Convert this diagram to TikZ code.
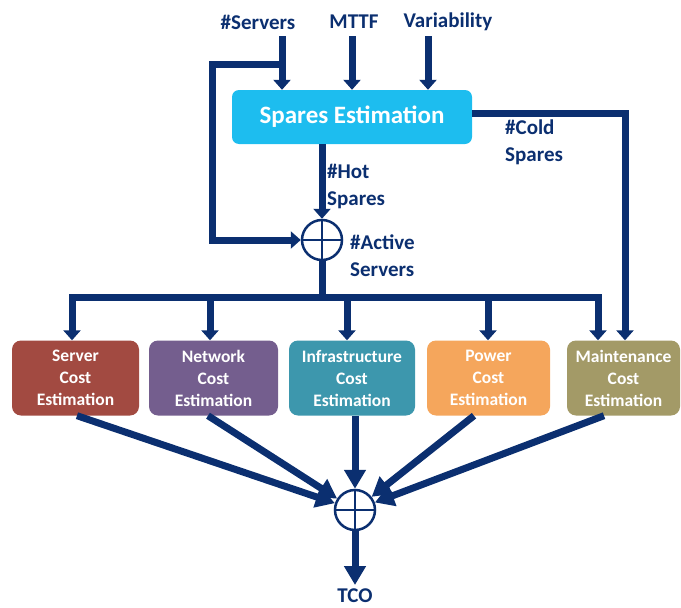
\documentclass[tikz,border=0pt]{standalone}
\usepackage{fontspec}
\setmainfont{Carlito}
\usetikzlibrary{arrows.meta}
\definecolor{navy}{HTML}{0B2F70}
\definecolor{skyfill}{HTML}{1DBDEF}
\definecolor{servercol}{HTML}{A24A41}
\definecolor{networkcol}{HTML}{745E8E}
\definecolor{infracol}{HTML}{3D97AD}
\definecolor{powercol}{HTML}{F5A65C}
\definecolor{maintcol}{HTML}{A39A67}
\begin{document}
\begin{tikzpicture}[x=1pt,y=-1pt,
  wire/.style={line width=7pt,draw=navy,line join=miter},
  flow/.style={wire,-{Triangle[width=17pt,length=10pt]}},
  bigflow/.style={wire,-{Triangle[width=21pt,length=19pt]}},
  lbl/.style={text=navy,font=\fontsize{21}{27}\selectfont\bfseries,inner sep=0pt},
  sidelbl/.style={lbl,align=left,anchor=north west},
  spares/.style={fill=skyfill,rounded corners=7pt,minimum width=240pt,minimum height=54pt,
    text=white,font=\fontsize{25}{28}\selectfont\bfseries},
  costbox/.style={rounded corners=9pt,minimum height=75pt,text=white,align=center,
    font=\fontsize{17.5}{22}\selectfont\bfseries,inner sep=0pt},
  sum/.style={circle,draw=navy,line width=2.5pt,fill=white,minimum size=40pt,inner sep=0pt,
    path picture={\draw[navy,line width=2pt]
      (path picture bounding box.north) -- (path picture bounding box.south)
      (path picture bounding box.west) -- (path picture bounding box.east);}}]
\useasboundingbox (0,0) rectangle (681,608);

% inputs
\node[lbl] (srv) at (258,22) {\#Servers};
\node[lbl] (mttf) at (354,22) {MTTF};
\node[lbl] (var) at (448,22) {Variability};

% spares estimation block
\node[spares] (se) at (352,117) {Spares Estimation};

\coordinate (srvx) at (282,36);
\coordinate (mttfx) at (352,36);
\coordinate (varx) at (428,36);
\draw[flow] (srvx) -- (se.north -| srvx);
\draw[flow] (mttfx) -- (se.north -| mttfx);
\draw[flow] (varx) -- (se.north -| varx);

% active servers summation
\node[sum] (s1) at (322,240) {};
\coordinate (tap) at (282,64);
\draw[flow] (tap) -- (212,64) -- (212,240) -- (s1.west);
\draw[flow] (se.south -| s1) -- (s1.north);
\node[sidelbl] (hot) at (327,164) {\#Hot\\Spares};
\node[sidelbl] (act) at (350,235) {\#Active\\Servers};

% cost blocks
\node[costbox,fill=servercol,minimum width=127pt] (c1) at (75.5,378) {Server\\Cost\\Estimation};
\node[costbox,fill=networkcol,minimum width=129pt] (c2) at (213.5,378) {Network\\Cost\\Estimation};
\node[costbox,fill=infracol,minimum width=126pt] (c3) at (352,378) {Infrastructure\\Cost\\Estimation};
\node[costbox,fill=powercol,minimum width=123pt] (c4) at (488.5,378) {Power\\Cost\\Estimation};
\node[costbox,fill=maintcol,minimum width=113pt] (c5) at (623.5,378) {Maintenance\\Cost\\Estimation};

% distribution bus
\coordinate (busL) at (72,297);
\coordinate (busR) at (598,297);
\coordinate (busM) at (322,297);
\draw[wire] (s1.south) -- (busM);
\draw[flow] (busR) -- (busL) -- (c1.north -| busL);
\draw[flow] (busL) -- (busR) -- (c5.north -| busR);
\draw[flow] (busM -| 210,0) -- (c2.north -| 210,0);
\draw[flow] (busM -| 347,0) -- (c3.north -| 347,0);
\draw[flow] (busM -| 488,0) -- (c4.north -| 488,0);

% cold spares path
\coordinate (cold) at (625,113);
\draw[flow] (se.east |- cold) -- (cold) -- (c5.north -| cold);
\node[sidelbl] (coldlbl) at (505,120) {\#Cold\\Spares};

% total cost summation
\node[sum] (s2) at (355,510) {};
\draw[bigflow] (c1.south -| 77,0) -- (s2);
\draw[bigflow] (c2.south -| 208,0) -- (s2);
\draw[bigflow] (c3.south -| s2) -- (s2.north);
\draw[bigflow] (c4.south -| 474,0) -- (s2);
\draw[bigflow] (c5.south -| 604,0) -- (s2);

\coordinate (out) at (355,585);
\draw[bigflow] (s2.south) -- (out);
\node[lbl] (tco) at (355,596) {TCO};
\end{tikzpicture}
\end{document}
